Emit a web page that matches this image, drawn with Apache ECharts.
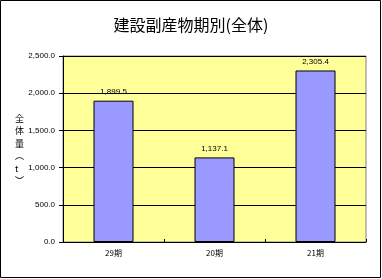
<!DOCTYPE html>
<html><head><meta charset="utf-8">
<script src="https://cdn.jsdelivr.net/npm/echarts@6/dist/echarts.min.js"></script>
<style>html,body{margin:0;padding:0;background:#fff}#c{width:382px;height:279px}</style>
</head><body><div id="c"></div>
<script>
const categories = ["29期", "20期", "21期"];
const values = [1899.5, 1137.1, 2305.4];
const yTicks = [0, 500, 1000, 1500, 2000, 2500];
const titleText = "建設副産物期別(全体)";
const yName = ["全", "体", "量", "︵", "t", "︶"];

const fmt = v => v.toLocaleString('en-US', {minimumFractionDigits: 1, maximumFractionDigits: 1});
const chart = echarts.init(document.getElementById('c'), null, {renderer: 'canvas'});
chart.setOption({
  animation: false,
  backgroundColor: '#fff',
  title: {text: titleText, left: 'center', top: 12,
    textStyle: {fontFamily: 'Noto Sans CJK JP', fontSize: 16, fontWeight: 'normal', color: '#000'}},
  grid: {left: 63, right: 16, top: 56, bottom: 37, show: true, backgroundColor: '#FFFF99', borderColor: '#808080', borderWidth: 1},
  xAxis: {type: 'category', data: categories,
    axisLine: {lineStyle: {color: '#000', width: 1}},
    axisTick: {show: true, inside: true, length: 3, lineStyle: {color: '#000'}},
    axisLabel: {fontSize: 8, color: '#000', margin: 7, fontFamily: 'Noto Sans CJK JP'}},
  yAxis: {type: 'value', min: yTicks[0], max: yTicks[yTicks.length-1], interval: 500,
    axisLine: {show: true, lineStyle: {color: '#000', width: 1}},
    axisTick: {show: true, length: 4, lineStyle: {color: '#000'}},
    splitLine: {lineStyle: {color: '#000', width: 1}},
    axisLabel: {fontSize: 8, color: '#000', margin: 8, formatter: v => fmt(v), fontFamily: 'Liberation Sans'}},
  series: [{type: 'bar', data: values, barWidth: 40,
    itemStyle: {color: '#9999FF', borderColor: '#000', borderWidth: 1},
    label: {show: true, position: 'top', distance: 5, fontSize: 8, color: '#000', formatter: p => fmt(p.value), fontFamily: 'Liberation Sans'}}],
  graphic: [
    {type: 'rect', shape: {x: 0.5, y: 0.5, width: 380, height: 277}, style: {fill: 'none', stroke: '#000', lineWidth: 1}, z: 100},
    {type: 'text', left: 15, top: 112, style: {text: yName.join('\n'), fontSize: 9, lineHeight: 12.5, fill: '#000', fontFamily: 'Noto Sans CJK JP', align: 'center'}}
  ]
});
</script></body></html>
